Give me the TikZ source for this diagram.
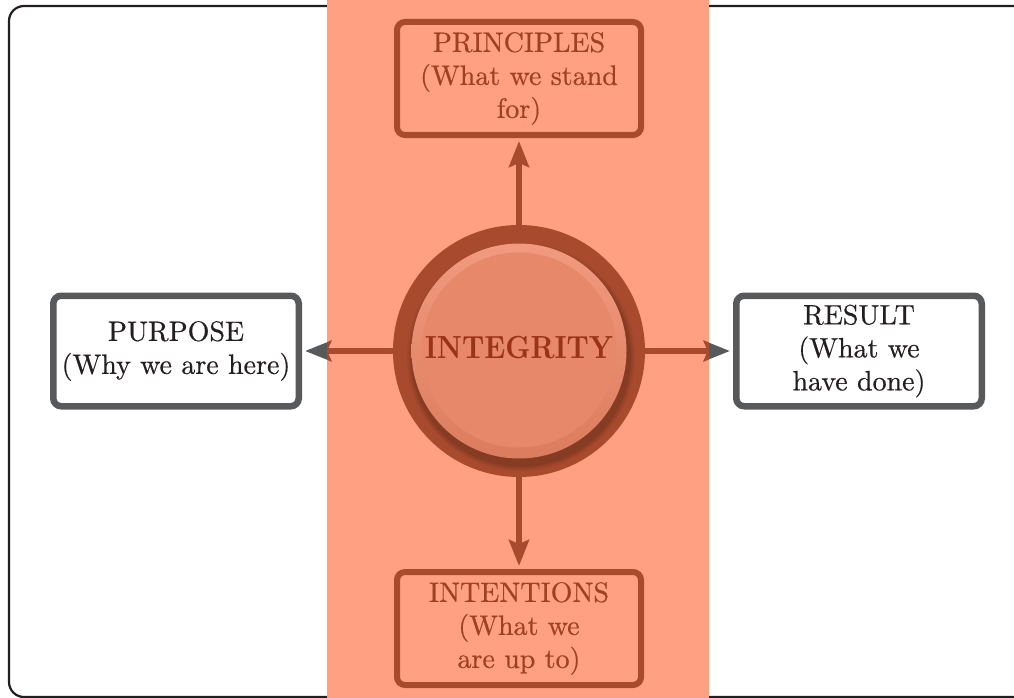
\documentclass[tikz,border=0pt]{standalone}
\usepackage{fontspec}
\newfontfamily\boxfont{lmroman10-regular}[Extension=.otf, FakeBold=0.5]
\newfontfamily\intfont{lmroman10-bold}[Extension=.otf]
\usetikzlibrary{arrows.meta}
\definecolor{band}{HTML}{FFA083}
\definecolor{brn}{HTML}{A84A2E}
\definecolor{brntext}{HTML}{9E4024}
\definecolor{inttext}{HTML}{9A3418}
\definecolor{disk}{HTML}{E8886A}
\definecolor{diskrim}{HTML}{F29A7F}
\definecolor{diskrimdark}{HTML}{DC7C5E}
\definecolor{gry}{HTML}{58595B}
\definecolor{frame}{HTML}{231F20}
\definecolor{txt}{HTML}{231F20}
\tikzset{
  boxtext/.style={font=\boxfont\fontsize{28}{33}\selectfont, align=center},
  orangebox/.style={boxtext, draw=brn, line width=6pt, rounded corners=8pt,
    minimum width=244pt, minimum height=113pt, text=brntext, inner sep=0pt},
  greybox/.style={boxtext, draw=gry, fill=white, line width=6.5pt, rounded corners=8pt,
    minimum width=245.5pt, minimum height=110.5pt, text=txt, inner sep=0pt},
  brarrow/.style={draw=brn, line width=6pt, -{Stealth[length=26pt,width=20pt,inset=4pt]}, shorten >=3pt},
  grarrow/.style={draw=gry, line width=6pt, -{Stealth[length=26pt,width=20pt,inset=4pt]}, shorten >=3pt}
}
\begin{document}
\begin{tikzpicture}[x=1pt,y=-1pt]
\useasboundingbox (0,0) rectangle (1014,698);
\clip (0,0) rectangle (1014,698);
% outer frame
\draw[frame, line width=2.2pt, rounded corners=15pt] (9,6) rectangle (1040,697);
% band
\fill[band] (327,-5) rectangle (709,705);
% circle
\node[circle, fill=brn, minimum size=252pt, inner sep=0pt] (c) at (519,351) {};
\foreach \r/\o in {114/0.08,112/0.12,110/0.16}{
  \fill[black!60!brn, opacity=\o] (521,357) circle (\r pt);
}
\shade[top color=diskrim, bottom color=diskrimdark] (519,351) circle (107.5pt);
\fill[disk] (519,350) circle (97.5pt);
\node[font=\intfont\fontsize{32}{36}\selectfont, text=inttext, inner sep=0pt] (it) at (519,348) {\scalebox{0.87}[1]{INTEGRITY}};
% boxes
\node[orangebox] (pr) at (519,78.5) {PRINCIPLES\\(What we stand\\for)};
\node[orangebox] (in) at (519,628.5) {INTENTIONS\\(What we\\are up to)};
\node[greybox] (pu) at (176,351) {PURPOSE\\(Why we are here)};
\node[greybox] (re) at (859,351) {RESULT\\(What we\\have done)};
% arrows
\draw[brarrow] (c.north) -- (pr.south);
\draw[brarrow] (c.south) -- (in.north);
\draw[grarrow] (c.west) -- (pu.east);
\draw[grarrow] (c.east) -- (re.west);
\begin{scope}
  \clip (327,0) rectangle (709,698);
  \draw[brarrow] (c.west) -- (pu.east);
  \draw[brarrow] (c.east) -- (re.west);
\end{scope}
\end{tikzpicture}
\end{document}
